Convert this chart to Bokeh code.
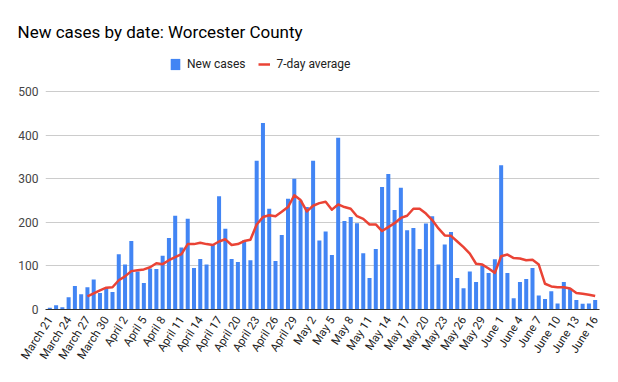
import math
from bokeh.plotting import figure
from bokeh.models import FixedTicker, Legend, LegendItem
from bokeh.embed import file_html
from bokeh.resources import INLINE

# ---- data ----
day_index = list(range(88))  # March 21 .. June 16
new_cases = [4, 10, 5, 28, 54, 35, 51, 69, 38, 50, 40,
             127, 103, 157, 87, 61, 94, 93, 123, 164, 215,
             142, 208, 95, 116, 103, 149, 260, 185, 116, 109,
             159, 113, 341, 428, 231, 111, 171, 254, 300, 250,
             235, 341, 158, 179, 125, 394, 203, 212, 198, 129,
             72, 139, 281, 311, 228, 279, 182, 187, 139, 197,
             214, 103, 149, 178, 72, 49, 87, 63, 101, 84, 115,
             331, 84, 26, 63, 70, 95, 32, 24, 42, 14, 63, 48,
             22, 13, 14, 22]
avg_index = list(range(6, 88))
avg_values = [30, 37, 44, 50, 51, 67, 76, 88, 90, 92, 97, 106, 104, 113, 120,
              127, 150, 150, 153, 150, 148, 156, 161, 148, 150, 157, 160, 195,
              212, 216, 214, 224, 235, 262, 251, 225, 238, 244, 247, 229, 241,
              235, 231, 214, 208, 195, 195, 180, 189, 198, 210, 215, 231, 231,
              220, 205, 186, 170, 169, 156, 143, 128, 105, 103, 94, 84, 122,
              126, 118, 117, 113, 114, 103, 59, 53, 51, 51, 48, 38, 36, 34, 31]
tick_positions = list(range(0, 88, 3))
tick_labels = ["March 21", "March 24", "March 27", "March 30", "April 2",
               "April 5", "April 8", "April 11", "April 14", "April 17",
               "April 20", "April 23", "April 26", "April 29", "May 2", "May 5",
               "May 8", "May 11", "May 14", "May 17", "May 20", "May 23",
               "May 26", "May 29", "June 1", "June 4", "June 7", "June 10",
               "June 13", "June 16"]
y_ticks = [0, 100, 200, 300, 400, 500]

FONT = "Roboto"

# layout constants (pixels)
TOP = 41          # height of the title band above the frame
PLOT_TOP = 91     # y where the 500 gridline sits
PLOT_BOTTOM = 309 # y of the zero line
HEIGHT = 372
y_end = 500 * (PLOT_BOTTOM - TOP) / (PLOT_BOTTOM - PLOT_TOP)

p = figure(width=602, height=HEIGHT, output_backend="svg", toolbar_location=None,
           x_range=(-0.69, 87.69), y_range=(0, y_end),
           min_border_left=45, min_border_right=3, min_border_top=TOP,
           min_border_bottom=HEIGHT - PLOT_BOTTOM)
p.outline_line_color = None
p.background_fill_color = "white"
p.border_fill_color = "white"

bars = p.vbar(x=day_index, top=new_cases, width=0.64, fill_color="#4285f4",
              line_color=None)
line = p.line(avg_index, avg_values, line_color="#ea4335", line_width=2.5,
              line_join="round")

# x axis
p.xaxis.ticker = FixedTicker(ticks=tick_positions)
p.xaxis.major_label_overrides = {pos: lab for pos, lab in zip(tick_positions, tick_labels)}
p.xaxis.major_label_orientation = math.radians(57)
p.xaxis.major_tick_line_color = None
p.xaxis.minor_tick_line_color = None
p.xaxis.major_tick_out = 0
p.xaxis.major_label_standoff = 8
p.xaxis.axis_line_color = "#333333"
p.xaxis.major_label_text_font = FONT
p.xaxis.major_label_text_font_size = "11.5px"
p.xaxis.major_label_text_color = "#222222"
p.xgrid.grid_line_color = None

# y axis
p.yaxis.ticker = FixedTicker(ticks=y_ticks)
p.yaxis.axis_line_color = None
p.yaxis.major_tick_line_color = None
p.yaxis.minor_tick_line_color = None
p.yaxis.major_tick_out = 0
p.yaxis.major_label_standoff = 7
p.yaxis.major_label_text_font = FONT
p.yaxis.major_label_text_font_size = "12px"
p.yaxis.major_label_text_color = "#444444"
p.ygrid.grid_line_color = "#cccccc"

# title
p.title.text = "New cases by date: Worcester County"
p.title.align = "left"
p.title.offset = -28
p.title.standoff = 0
p.title.text_font = FONT
p.title.text_font_size = "17px"
p.title.text_font_style = "normal"
p.title.text_color = "#000000"

legend = Legend(items=[LegendItem(label="New cases", renderers=[bars]),
                       LegendItem(label="7-day average", renderers=[line])],
                orientation="horizontal", location=(124, PLOT_BOTTOM - 71),
                glyph_width=12, glyph_height=14, label_height=14,
                label_standoff=6, spacing=13, padding=0, margin=0,
                label_text_font=FONT, label_text_font_size="12px",
                label_text_color="#222222", border_line_color=None,
                background_fill_alpha=0)
p.add_layout(legend, "center")

open("out.html", "w").write(file_html(p, INLINE))
